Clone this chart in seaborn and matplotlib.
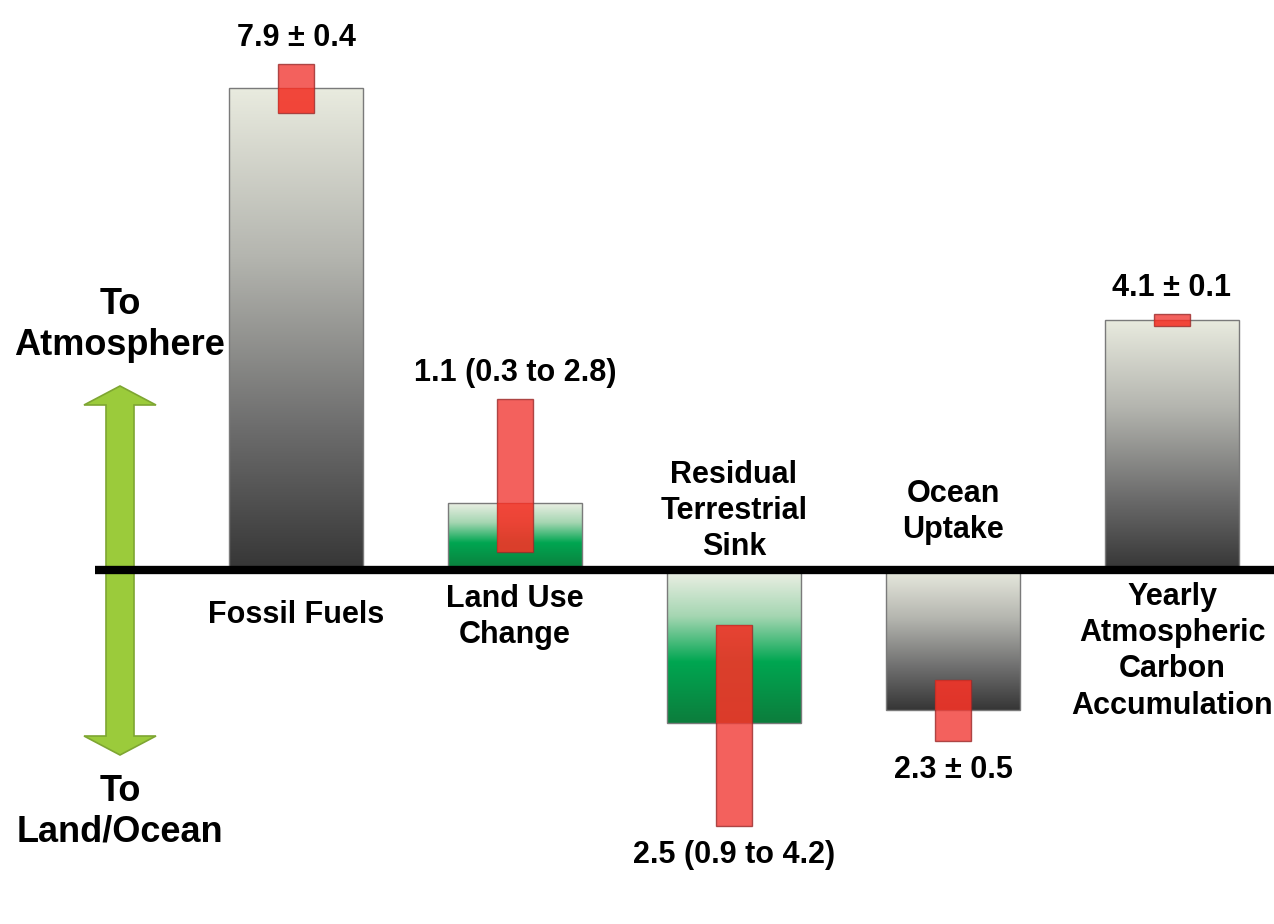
import numpy as np
import pandas as pd
import matplotlib
matplotlib.use("Agg")
import matplotlib.pyplot as plt
import seaborn as sns
from matplotlib.colors import LinearSegmentedColormap
from matplotlib.patches import Polygon, Rectangle

# Global carbon budget terms (PgC per year)
categories = ["Fossil Fuels", "Land Use\nChange", "Residual\nTerrestrial\nSink",
              "Ocean\nUptake", "Yearly\nAtmospheric\nCarbon\nAccumulation"]
flux = [7.9, 1.1, -2.5, -2.3, 4.1]
flux_low = [7.5, 0.3, -0.9, -1.8, 4.0]
flux_high = [8.3, 2.8, -4.2, -2.8, 4.2]
value_labels = ["7.9 \u00b1 0.4", "1.1 (0.3 to 2.8)", "2.5 (0.9 to 4.2)",
                "2.3 \u00b1 0.5", "4.1 \u00b1 0.1"]
bar_style = ["gray", "green", "green", "gray", "gray"]

sns.set_theme(style="white")
plt.rcParams["font.family"] = ["Liberation Sans", "DejaVu Sans"]
plt.rcParams["font.weight"] = "bold"
plt.rcParams["text.color"] = "black"

W, H = 1274, 924
fig = plt.figure(figsize=(W / 100, H / 100), dpi=100)
ax = fig.add_axes([0, 0, 1, 1])

# main bars
df = pd.DataFrame({"term": categories, "flux": flux})
sns.barplot(data=df, x="term", y="flux", order=categories, width=0.61,
            color="white", saturation=1, edgecolor="#7a7a7a", linewidth=1.0,
            errorbar=None, ax=ax, zorder=2)
bars = list(ax.patches)

# uncertainty boxes
err = pd.DataFrame({"term": categories,
                    "span": np.array(flux_high) - np.array(flux_low)})
sns.barplot(data=err, x="term", y="span", order=categories, width=0.165,
            color="#f03a34", saturation=1, alpha=0.8, edgecolor="#9a2a2a",
            linewidth=1.0, errorbar=None, ax=ax, zorder=3.2)
boxes = list(ax.patches)[len(bars):]
for box, lo in zip(boxes, flux_low):
    box.set_y(lo)

# gradient fills clipped to each bar
cmaps = {
    "gray": LinearSegmentedColormap.from_list(
        "gray_bar", [(0.0, "#e9ebdf"), (0.35, "#b4b5af"), (0.7, "#6e6e6e"), (1.0, "#363636")]),
    "green": LinearSegmentedColormap.from_list(
        "green_bar", [(0.0, "#eef0e6"), (0.3, "#a5d6b2"), (0.6, "#00a651"), (1.0, "#0c7d3c")]),
}
grad = np.linspace(0, 1, 256).reshape(-1, 1)
for bar, box, style in zip(bars, boxes, bar_style):
    x0, w = bar.get_x(), bar.get_width()
    y0, h = bar.get_y(), bar.get_height()
    top, bottom = max(y0, y0 + h), min(y0, y0 + h)
    im = ax.imshow(grad, cmap=cmaps[style], aspect="auto", origin="upper",
                   extent=(x0, x0 + w, bottom, top), zorder=1.5)
    im.set_clip_path(bar)
    bar.set_facecolor("none")
    # deeper red where the uncertainty box overlaps the bar
    inner = Rectangle((box.get_x(), box.get_y()), box.get_width(), box.get_height(),
                      facecolor="#f5301f", alpha=0.5, edgecolor="none", zorder=3.3)
    ax.add_patch(inner)
    inner.set_clip_path(bar)

# layout in pixel terms
px_per_unit = 61.0
base_px = 570
ax.set_ylim(-(H - base_px) / px_per_unit, base_px / px_per_unit)
ax.set_xlim(-296 / 219, (W - 296) / 219)
ax.set_axis_off()

# zero line
ax.axhline(0, xmin=95 / W, xmax=1, color="black", lw=6, zorder=4,
           solid_capstyle="butt")

# double-headed direction arrow
cx, sh, hh = 120 / W, 14 / W, 36 / W
ytop, ybot, hl = 1 - 386 / H, 1 - 755 / H, 19 / H
arrow = Polygon([(cx, ytop), (cx + hh, ytop - hl), (cx + sh, ytop - hl),
                 (cx + sh, ybot + hl), (cx + hh, ybot + hl), (cx, ybot),
                 (cx - hh, ybot + hl), (cx - sh, ybot + hl), (cx - sh, ytop - hl),
                 (cx - hh, ytop - hl)], closed=True, transform=ax.transAxes,
                facecolor="#9bcb3b", edgecolor="#7ea632", lw=1.2, zorder=3)
ax.add_patch(arrow)

ax.text(cx, 1 - 325 / H, "To\nAtmosphere", transform=ax.transAxes,
        ha="center", va="center", fontsize=26, fontweight="bold", color="black")
ax.text(cx, 1 - 812 / H, "To\nLand/Ocean", transform=ax.transAxes,
        ha="center", va="center", fontsize=26, fontweight="bold", color="black")

# category names
xt = ax.get_xaxis_transform()
name_pos = [(615, "center"), (584, "top"), (511, "center"), (512, "center"), (582, "top")]
for i, (name, (ypx, va)) in enumerate(zip(categories, name_pos)):
    ax.text(i, 1 - ypx / H, name, transform=xt, ha="center", va=va,
            fontsize=22, fontweight="bold", linespacing=1.27, color="black")

# value labels next to the uncertainty boxes
for i, (lab, lo, hi) in enumerate(zip(value_labels, flux_low, flux_high)):
    if hi > 0:
        ax.annotate(lab, (i, max(lo, hi)), xytext=(0, 8), textcoords="offset points",
                    ha="center", va="bottom", fontsize=22, fontweight="bold",
                    color="black")
    else:
        ax.annotate(lab, (i, min(lo, hi)), xytext=(0, -10), textcoords="offset points",
                    ha="center", va="top", fontsize=22, fontweight="bold",
                    color="black")

fig.savefig("out.png", dpi=100, facecolor="white")
